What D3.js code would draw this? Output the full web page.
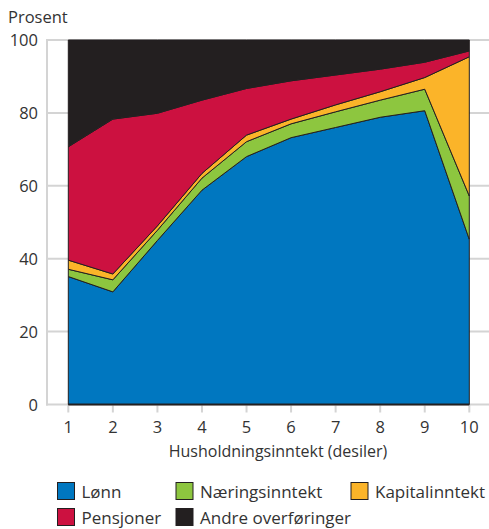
<!DOCTYPE html>
<html>
<head>
<meta charset="utf-8">
<script src="https://cdn.jsdelivr.net/npm/d3@7"></script>
<style>
  body { margin: 0; background: #fff; }
  svg text { font-family: "Open Sans", "Noto Sans", sans-serif; fill: #333; }
</style>
</head>
<body>
<svg id="chart" width="489" height="529"></svg>
<script>
const deciles = [1, 2, 3, 4, 5, 6, 7, 8, 9, 10]
const lonn = [35.1, 30.9, 45.0, 58.8, 68.0, 73.2, 76.0, 78.8, 80.6, 45.3]
const naering = [2.0, 3.3, 2.8, 3.3, 4.1, 3.8, 4.3, 4.7, 5.9, 11.9]
const kapital = [2.5, 1.6, 1.2, 1.3, 1.8, 1.3, 1.9, 2.3, 3.2, 38.2]
const pensjoner = [31.1, 42.5, 30.9, 20.1, 12.8, 10.5, 8.2, 6.2, 4.2, 1.6]
const andre = [29.3, 21.7, 20.1, 16.5, 13.3, 11.2, 9.6, 8.0, 6.1, 3.0]
const yTicks = [0, 20, 40, 60, 80, 100]

const seriesNames = ['Lønn', 'Næringsinntekt', 'Kapitalinntekt', 'Pensjoner', 'Andre overføringer']
const colors = ['#0077c0', '#8dc63f', '#fbb429', '#cc1140', '#231f20']

const rows = deciles.map((d, i) => ({
    decil: d,
    'Lønn': lonn[i],
    'Næringsinntekt': naering[i],
    'Kapitalinntekt': kapital[i],
    'Pensjoner': pensjoner[i],
    'Andre overføringer': andre[i]
}))

let svg = d3.select('#chart')

let scale_x = d3.scaleLinear().domain([1, 10]).range([68.3, 469.3])
let scale_y = d3.scaleLinear().domain([0, 100]).range([404.5, 40])

// grey grid and frame
svg.append('g')
    .selectAll('line')
    .data(yTicks)
    .join('line')
    .attr('x1', 46).attr('x2', 489)
    .attr('y1', d => scale_y(d)).attr('y2', d => scale_y(d))
    .attr('stroke', '#d4d4d4')
    .attr('stroke-width', 2)
svg.append('line')
    .attr('x1', 47).attr('x2', 47)
    .attr('y1', scale_y(100) - 1).attr('y2', scale_y(0) + 1)
    .attr('stroke', '#d4d4d4')
    .attr('stroke-width', 2)
svg.append('g')
    .selectAll('line')
    .data(deciles)
    .join('line')
    .attr('x1', d => scale_x(d)).attr('x2', d => scale_x(d))
    .attr('y1', scale_y(0)).attr('y2', scale_y(0) + 8)
    .attr('stroke', '#d4d4d4')
    .attr('stroke-width', 2)

// stacked areas
let stack = d3.stack().keys(seriesNames)
let layers = stack(rows)
let area = d3.area()
    .x(d => scale_x(d.data.decil))
    .y0(d => scale_y(d[0]))
    .y1(d => scale_y(d[1]))

svg.append('g')
    .selectAll('path')
    .data(layers)
    .join('path')
    .attr('fill', (d, i) => colors[i])
    .attr('stroke', '#231f20')
    .attr('stroke-width', 1)
    .attr('stroke-linejoin', 'round')
    .attr('d', area)

// dark baseline
svg.append('line')
    .attr('x1', scale_x(1)).attr('x2', scale_x(10))
    .attr('y1', scale_y(0)).attr('y2', scale_y(0))
    .attr('stroke', '#231f20')
    .attr('stroke-width', 2)

// axis labels
svg.append('g')
    .selectAll('text')
    .data(yTicks)
    .join('text')
    .attr('x', 38)
    .attr('y', d => scale_y(d) + 6)
    .attr('text-anchor', 'end')
    .attr('font-size', 16.5)
    .text(d => d)
svg.append('g')
    .selectAll('text')
    .data(deciles)
    .join('text')
    .attr('x', d => scale_x(d))
    .attr('y', 433)
    .attr('text-anchor', 'middle')
    .attr('font-size', 16.5)
    .text(d => d)
svg.append('text')
    .attr('x', 8).attr('y', 23)
    .attr('font-size', 16.5)
    .text('Prosent')
svg.append('text')
    .attr('x', 278).attr('y', 457)
    .attr('text-anchor', 'middle')
    .attr('font-size', 16)
    .text('Husholdningsinntekt (desiler)')

// legend
const legendPos = [[57.5, 482.5], [176, 482.5], [351, 482.5], [57.5, 508.5], [176, 508.5]]
let legend = svg.append('g')
    .selectAll('g')
    .data(seriesNames)
    .join('g')
    .attr('transform', (d, i) => 'translate(' + legendPos[i][0] + ',' + legendPos[i][1] + ')')
legend.append('rect')
    .attr('width', 17).attr('height', 17)
    .attr('fill', (d, i) => colors[i])
    .attr('stroke', '#231f20')
    .attr('stroke-width', 1)
legend.append('text')
    .attr('x', 24).attr('y', 15.5)
    .attr('font-size', 17)
    .text(d => d)
</script>
</body>
</html>
